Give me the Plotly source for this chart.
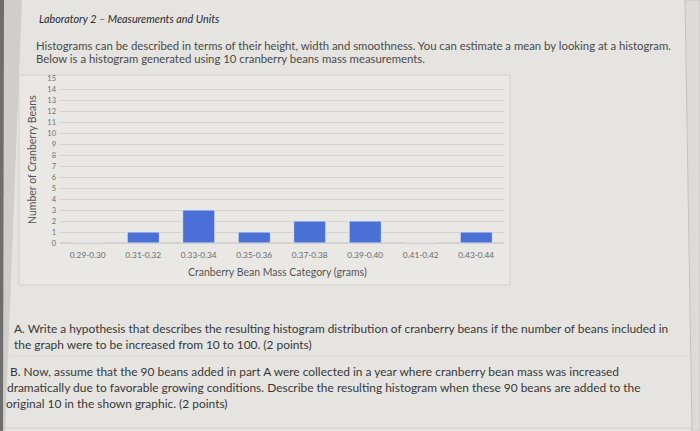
import plotly.graph_objects as go

categories = ["0.29-0.30", "0.31-0.32", "0.33-0.34", "0.35-0.36",
              "0.37-0.38", "0.39-0.40", "0.41-0.42", "0.43-0.44"]
counts = [0, 1, 3, 1, 2, 2, 0, 1]
y_ticks = list(range(0, 16))

title_text = "Laboratory 2 – Measurements and Units"
intro_lines = [
    "Histograms can be described in terms of their height, width and smoothness. You can estimate a mean by looking at a histogram.",
    "Below is a histogram generated using 10 cranberry beans mass measurements.",
]
qa_lines = [
    "A. Write a hypothesis that describes the resulting histogram distribution of cranberry beans if the number of beans included in",
    "the graph were to be increased from 10 to 100. (2 points)",
]
qb_lines = [
    "B. Now, assume that the 90 beans added in part A were collected in a year where cranberry bean mass was increased",
    "dramatically due to favorable growing conditions. Describe the resulting histogram when these 90 beans are added to the",
    "original 10 in the shown graphic. (2 points)",
]

W, H = 700, 431
L, R, T, B = 60, 504, 78, 243

def px(x):
    return (x - L) / (R - L)

def py(y):
    return (B - y) / (B - T)

PAPER = "#e5e4e0"
FONT = "Lato"

fig = go.Figure(go.Bar(
    x=categories, y=counts,
    marker=dict(color="#4a70d6", line=dict(color="#dfe4f0", width=1)),
    width=0.58,
))

def note(x, y, text, size, color, anchor="left", angle=0):
    return dict(x=px(x), y=py(y), xref="paper", yref="paper", text=text, showarrow=False,
                xanchor=anchor, yanchor="middle", textangle=angle,
                font=dict(family=FONT, size=size, color=color))

ann = []
ann.append(note(37, 18, "<i>" + title_text + "</i>", 10.8, "#2a2a2a"))
for i, t in enumerate(intro_lines):
    ann.append(note(34, 45 + 14 * i, t, 11.35, "#4a4a4a"))
qa_y = [328, 344]
for i, t in enumerate(qa_lines):
    ann.append(note(12, qa_y[i], t, 11.9, "#383838"))
qb_y = [371, 387, 403]
qb_x = [8, 5, 4]
for i, t in enumerate(qb_lines):
    ann.append(note(qb_x[i], qb_y[i], t, 11.95, "#383838"))
ann.append(note(277, 272, "Cranberry Bean Mass Category (grams)", 10.5, "#555555", anchor="center"))
ann.append(note(32, 160, "Number of Cranberry Beans", 10.5, "#555555", anchor="center", angle=-90))

shapes = []
shapes.append(dict(type="path", xref="paper", yref="paper",
                   path=f"M {px(0)},{py(0)} L {px(22)},{py(0)} L {px(5)},{py(431)} L {px(0)},{py(431)} Z",
                   fillcolor="#cfcecb", line=dict(width=0), layer="below"))
shapes.append(dict(type="path", xref="paper", yref="paper",
                   path=f"M {px(0)},{py(0)} L {px(4)},{py(0)} L {px(3)},{py(431)} L {px(0)},{py(431)} Z",
                   fillcolor="#6e6e6e", line=dict(width=0), layer="below"))
shapes.append(dict(type="path", xref="paper", yref="paper",
                   path=f"M {px(685)},{py(0)} L {px(700)},{py(0)} L {px(700)},{py(431)} L {px(692)},{py(431)} Z",
                   fillcolor="#dcdbd7", line=dict(color="#c4c3bf", width=1), layer="below"))
shapes.append(dict(type="rect", xref="paper", yref="paper",
                   x0=px(19), x1=px(510), y0=py(75), y1=py(285),
                   fillcolor="#e9e8e5", line=dict(color="#d2d1cd", width=1), layer="below"))
shapes.append(dict(type="line", xref="paper", yref="paper",
                   x0=px(5), x1=px(690), y0=py(356), y1=py(356),
                   line=dict(color="#d9d8d4", width=1), layer="below"))
shapes.append(dict(type="line", xref="paper", yref="paper",
                   x0=px(3), x1=px(692), y0=py(428), y1=py(428),
                   line=dict(color="#cfcecb", width=1), layer="below"))

fig.update_layout(
    width=W, height=H,
    margin=dict(l=L, r=W - R, t=T, b=H - B),
    paper_bgcolor=PAPER,
    plot_bgcolor="rgba(0,0,0,0)",
    showlegend=False,
    bargap=0.42,
    annotations=ann,
    shapes=shapes,
    font=dict(family=FONT),
)
fig.update_xaxes(
    type="category", categoryorder="array", categoryarray=categories,
    showgrid=False, showline=False, zeroline=False, ticks="",
    tickfont=dict(family=FONT, size=8.3, color="#6a6a6a"),
    ticklabelstandoff=6,
)
fig.update_yaxes(
    range=[0, 15], tickvals=y_ticks, ticktext=[str(v) for v in y_ticks],
    showgrid=True, gridcolor="#d3d2ce", gridwidth=1,
    zeroline=True, zerolinecolor="#d3d2ce", showline=False, ticks="",
    tickfont=dict(family=FONT, size=7.5, color="#707070"),
    ticklabelstandoff=3,
)

fig.write_html("out.html",
               config={"displayModeBar": False},
               post_script="document.body.style.margin='0px';document.body.style.overflow='hidden';")
